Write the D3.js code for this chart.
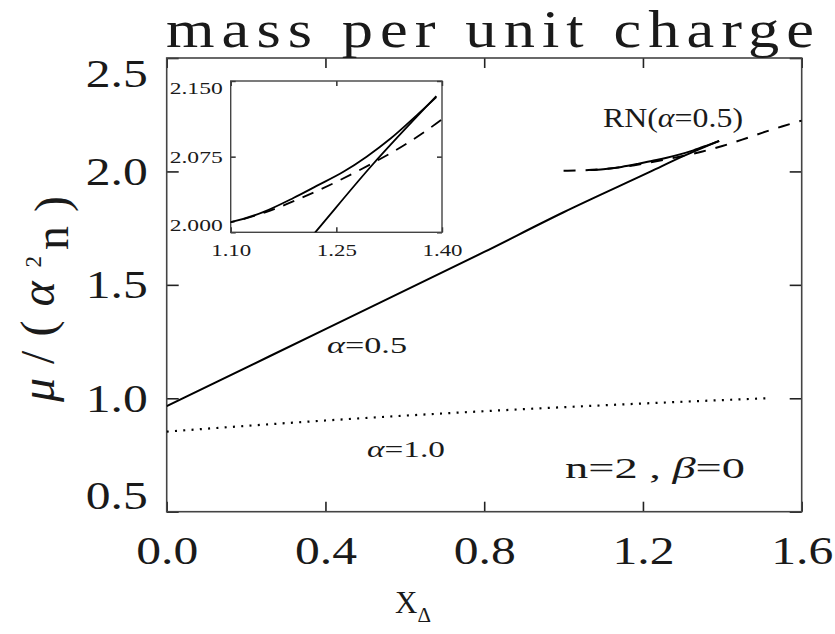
<!DOCTYPE html>
<html>
<head>
<meta charset="utf-8">
<script src="https://cdn.jsdelivr.net/npm/d3@7"></script>
<style>
  body { margin: 0; background: #fff; }
  text { font-family: "Liberation Serif", serif; fill: #1a1a1a; }
</style>
</head>
<body>
<div class="chart"></div>
<script>
// tick values
var xTicksMain = [0.0, 0.4, 0.8, 1.2, 1.6];
var yTicksMain = [0.5, 1.0, 1.5, 2.0, 2.5];
var xTicksInset = [1.10, 1.25, 1.40];
var yTicksInset = [2.000, 2.075, 2.150];

// alpha = 0.5, solid straight-ish curve
var alpha05X = [0.0, 0.4, 0.8, 1.0, 1.22, 1.30, 1.392];
var alpha05Y = [0.965, 1.305, 1.645, 1.82, 2.0, 2.066, 2.135];

// alpha = 1.0, dotted
var alpha10X = [0.0, 0.4, 0.8, 1.2, 1.512];
var alpha10Y = [0.853, 0.902, 0.943, 0.977, 1.0];

// RN(alpha=0.5), solid
var rnSolidX = [1.067, 1.10, 1.146, 1.189, 1.222, 1.260, 1.293, 1.327, 1.364, 1.392];
var rnSolidY = [2.006, 2.010, 2.020, 2.034, 2.046, 2.060, 2.075, 2.093, 2.116, 2.134];

// RN(alpha=0.5), dashed
var rnDashX = [1.00, 1.05, 1.10, 1.15, 1.20, 1.25, 1.30, 1.35, 1.40, 1.45, 1.50, 1.55, 1.60];
var rnDashY = [2.003, 2.005, 2.010, 2.020, 2.034, 2.050, 2.068, 2.088, 2.112, 2.140, 2.170, 2.198, 2.224];

function zip(xs, ys) { return xs.map(function(v, i) { return [v, ys[i]]; }); }

var width = 835, height = 634;
var frame = {left: 166.7, right: 801.7, top: 58, bottom: 511.7};
var inset = {left: 230.7, right: 442, top: 81, bottom: 232.3};

var svg = d3.select("div.chart").append("svg")
    .attr("width", width)
    .attr("height", height);

var x = d3.scaleLinear().domain([0, 1.6]).range([frame.left, frame.right]);
var y = d3.scaleLinear().domain([0.5, 2.5]).range([frame.bottom, frame.top]);
var xi = d3.scaleLinear().domain([1.10, 1.40]).range([inset.left, inset.right]);
var yi = d3.scaleLinear().domain([2.0, 2.15]).range([inset.bottom, inset.top]);

var defs = svg.append("defs");
defs.append("clipPath").attr("id", "clipMain").append("rect")
    .attr("x", frame.left).attr("y", frame.top)
    .attr("width", frame.right - frame.left).attr("height", frame.bottom - frame.top);
defs.append("clipPath").attr("id", "clipInset").append("rect")
    .attr("x", inset.left).attr("y", inset.top)
    .attr("width", inset.right - inset.left).attr("height", inset.bottom - inset.top);

// Draw an IDL style box with inward ticks on all four sides
function drawAxes(g, sx, sy, box, opt) {
  var fmtX = d3.format(opt.fx), fmtY = d3.format(opt.fy);
  var bottom = g.append("g").attr("transform", "translate(0," + box.bottom + ")")
    .call(d3.axisBottom(sx).tickValues(opt.xt).tickSizeInner(-opt.tx).tickSizeOuter(0)
      .tickPadding(opt.px).tickFormat(fmtX));
  var top = g.append("g").attr("transform", "translate(0," + box.top + ")")
    .call(d3.axisTop(sx).tickValues(opt.xt).tickSizeInner(-opt.tx).tickSizeOuter(0).tickFormat(""));
  var left = g.append("g").attr("transform", "translate(" + box.left + ",0)")
    .call(d3.axisLeft(sy).tickValues(opt.yt).tickSizeInner(-opt.ty).tickSizeOuter(0)
      .tickPadding(opt.py).tickFormat(fmtY));
  var right = g.append("g").attr("transform", "translate(" + box.right + ",0)")
    .call(d3.axisRight(sy).tickValues(opt.yt).tickSizeInner(-opt.ty).tickSizeOuter(0).tickFormat(""));

  [bottom, top, left, right].forEach(function(a) {
    a.select(".domain").remove();
    a.selectAll("line").attr("stroke", "#222").attr("stroke-width", opt.sw);
    a.attr("font-family", null).attr("font-size", null).attr("fill", null);
  });
  bottom.selectAll("text").style("font-size", opt.fs + "px")
    .attr("textLength", opt.wx).attr("lengthAdjust", "spacingAndGlyphs");
  left.selectAll("text").style("font-size", opt.fs + "px")
    .attr("textLength", opt.wy).attr("lengthAdjust", "spacingAndGlyphs");
  // end labels on the y axis are pulled inside the box
  var n = opt.yt.length;
  left.selectAll(".tick text").attr("dy", function(d, i) {
    if (i === 0) return (0.32 - opt.shift) + "em";
    if (i === n - 1) return (0.32 + opt.shift) + "em";
    return "0.32em";
  });

  g.append("rect")
    .attr("x", box.left).attr("y", box.top)
    .attr("width", box.right - box.left).attr("height", box.bottom - box.top)
    .attr("fill", "none").attr("stroke", "#444").attr("stroke-width", opt.sw);
}

var main = svg.append("g").attr("class", "main");
drawAxes(main, x, y, frame, {
  xt: xTicksMain, yt: yTicksMain, fx: ".1f", fy: ".1f",
  tx: 10, ty: 12, px: 24, py: 19, fs: 40, wx: 62, wy: 62, sw: 1.6, shift: 0.4
});

var line = d3.line().x(function(d) { return x(d[0]); }).y(function(d) { return y(d[1]); })
    .curve(d3.curveMonotoneX);

var plot = main.append("g").attr("clip-path", "url(#clipMain)");
plot.append("path").datum(zip(alpha05X, alpha05Y))
    .attr("d", line).attr("fill", "none").attr("stroke", "#000").attr("stroke-width", 2);
plot.append("path").datum(zip(alpha10X, alpha10Y))
    .attr("d", line).attr("fill", "none").attr("stroke", "#000").attr("stroke-width", 2.2)
    .attr("stroke-dasharray", "2,6.3");
plot.append("path").datum(zip(rnSolidX, rnSolidY))
    .attr("d", line).attr("fill", "none").attr("stroke", "#000").attr("stroke-width", 2);
plot.append("path").datum(zip(rnDashX, rnDashY))
    .attr("d", line).attr("fill", "none").attr("stroke", "#000").attr("stroke-width", 2)
    .attr("stroke-dasharray", "12,10");

// Inset
var ins = svg.append("g").attr("class", "inset");
ins.append("rect")
    .attr("x", inset.left).attr("y", inset.top)
    .attr("width", inset.right - inset.left).attr("height", inset.bottom - inset.top)
    .attr("fill", "#fff");
drawAxes(ins, xi, yi, inset, {
  xt: xTicksInset, yt: yTicksInset, fx: ".2f", fy: ".3f",
  tx: 5, ty: 5, px: 12, py: 8, fs: 17, wx: 40, wy: 53, sw: 1.4, shift: 0.4
});

var lineI = d3.line().x(function(d) { return xi(d[0]); }).y(function(d) { return yi(d[1]); })
    .curve(d3.curveMonotoneX);
var iplot = ins.append("g").attr("clip-path", "url(#clipInset)");
iplot.append("path").datum(zip(alpha05X, alpha05Y))
    .attr("d", lineI).attr("fill", "none").attr("stroke", "#000").attr("stroke-width", 1.8);
iplot.append("path").datum(zip(rnSolidX, rnSolidY))
    .attr("d", lineI).attr("fill", "none").attr("stroke", "#000").attr("stroke-width", 1.8);
iplot.append("path").datum(zip(rnDashX, rnDashY))
    .attr("d", lineI).attr("fill", "none").attr("stroke", "#000").attr("stroke-width", 1.8)
    .attr("stroke-dasharray", "12,9");

// Title and axis titles (stretched a bit to get the wide plotter glyphs)
svg.append("text")
    .attr("transform", "translate(166,47) scale(1.2,1)")
    .attr("textLength", 540).attr("lengthAdjust", "spacing")
    .style("font-size", "52px")
    .text("mass per unit charge");

var ylab = svg.append("text")
    .attr("transform", "translate(54,402) rotate(-90)")
    .attr("letter-spacing", 14)
    .style("font-size", "48px");
ylab.append("tspan").style("font-style", "italic").text("μ");
ylab.append("tspan").text("/(");
ylab.append("tspan").style("font-style", "italic").text("α");
ylab.append("tspan").attr("dy", "-0.55em").style("font-size", "23px").attr("letter-spacing", 6).text("2");
ylab.append("tspan").attr("dy", "0.55em").text("n)");

var xlab = svg.append("text")
    .attr("x", 395).attr("y", 613)
    .style("font-size", "31px");
xlab.append("tspan").text("X");
xlab.append("tspan").attr("dy", "9").style("font-size", "21px").text("Δ");

// Curve annotations
function label(xp, yp, len, size, parts) {
  var t = svg.append("text").attr("x", xp).attr("y", yp)
      .attr("textLength", len).attr("lengthAdjust", "spacingAndGlyphs")
      .style("font-size", size + "px");
  parts.forEach(function(p) {
    var s = t.append("tspan").text(p[0]);
    if (p[1]) s.style("font-style", "italic");
  });
}
label(603, 127, 140, 27, [["RN("], ["α", true], ["=0.5)"]]);
label(327, 353, 80, 23, [["α", true], ["=0.5"]]);
label(367, 457, 78, 23, [["α", true], ["=1.0"]]);
label(565, 478, 180, 29, [["n=2  ,  "], ["β", true], ["=0"]]);
</script>
</body>
</html>
